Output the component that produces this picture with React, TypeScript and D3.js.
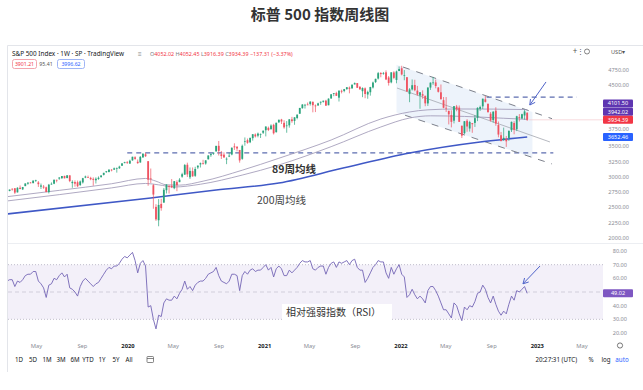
import React from 'react';
import * as d3 from 'd3';

const W = 643;
const H = 390;

// Monday of the first weekly bar (S&P 500, 1W)
const START_MS = Date.UTC(2019, 1, 11);
const barDate = (i: number) => new Date(START_MS + i * 7 * 86400000);

// weekly candles [open, high, low, close]
const candles: [number, number, number, number][] = [
  [2708,2785,2703,2776],[2770,2793,2764,2793],[2805,2814,2775,2804],[2814,2817,2722,2743],[2747,2831,2745,2822],
  [2823,2860,2800,2801],[2796,2836,2785,2834],[2849,2893,2849,2893],[2889,2910,2872,2907],[2908,2916,2895,2905],
  [2898,2940,2896,2940],[2940,2954,2918,2946],[2909,2932,2836,2881],[2840,2892,2802,2860],[2841,2868,2805,2826],
  [2830,2841,2750,2752],[2751,2885,2729,2873],[2886,2910,2873,2887],[2889,2964,2881,2950],[2952,2955,2911,2942],
  [2972,2996,2952,2990],[2980,3014,2966,3014],[3017,3018,2976,2977],[2982,3028,2976,3026],[3025,3028,2914,2932],
  [2898,2945,2822,2919],[2916,2943,2840,2889],[2913,2940,2834,2847],[2866,2941,2853,2926],[2910,2985,2891,2979],
  [2988,3021,2979,3007],[2997,3022,2985,2992],[2984,3002,2946,2962],[2968,2992,2856,2952],[2945,2993,2892,2970],
  [2966,3008,2952,2986],[2996,3028,2990,3023],[3033,3067,3023,3067],[3079,3097,3066,3093],[3081,3120,3074,3120],
  [3118,3128,3091,3110],[3118,3154,3117,3141],[3144,3154,3070,3146],[3141,3183,3132,3169],[3183,3226,3180,3221],
  [3227,3248,3222,3240],
  [3240,3259,3212,3235],[3218,3282,3215,3265],[3271,3330,3264,3330],[3321,3338,3280,3295],[3248,3285,3214,3226],
  [3236,3342,3234,3328],[3319,3385,3315,3380],[3370,3394,3328,3338],[3257,3259,2855,2954],[2975,3137,2901,2972],
  [2864,2882,2479,2711],[2509,2553,2280,2305],[2291,2637,2192,2541],[2558,2642,2447,2489],[2579,2819,2579,2790],
  [2782,2880,2729,2875],[2846,2869,2728,2837],[2855,2965,2817,2831],[2815,2933,2798,2930],[2915,2945,2766,2864],
  [2914,2980,2914,2955],[3004,3068,2986,3044],[3038,3212,3032,3194],[3199,3233,2999,3041],[2994,3155,2966,3098],
  [3095,3155,3004,3009],[3018,3166,3000,3130],[3155,3186,3128,3185],[3205,3235,3154,3225],[3224,3280,3201,3216],
  [3219,3272,3200,3271],[3289,3352,3284,3351],[3356,3388,3328,3373],[3380,3399,3361,3397],[3419,3509,3411,3508],
  [3509,3588,3350,3427],[3371,3425,3293,3341],[3364,3402,3313,3319],[3285,3320,3209,3298],[3333,3397,3324,3348],
  [3367,3483,3354,3477],[3500,3550,3441,3484],[3494,3502,3419,3465],[3441,3441,3233,3270],[3296,3529,3280,3509],
  [3583,3646,3511,3585],[3601,3628,3543,3558],[3567,3645,3553,3638],[3634,3700,3594,3699],[3694,3712,3645,3663],
  [3675,3726,3648,3709],[3694,3711,3637,3703],[3723,3760,3703,3756],
  [3764,3826,3663,3825],[3803,3824,3750,3768],[3781,3861,3775,3841],[3852,3870,3694,3714],[3732,3887,3726,3887],
  [3893,3938,3885,3935],[3939,3950,3866,3907],[3885,3928,3789,3811],[3842,3914,3723,3842],[3844,3945,3806,3943],
  [3942,3983,3886,3913],[3916,3978,3853,3975],[3964,4021,3943,4020],[4034,4129,4034,4129],[4125,4191,4117,4185],
  [4179,4195,4119,4180],[4185,4218,4174,4181],[4192,4238,4167,4233],[4228,4236,4057,4174],[4169,4186,4061,4156],
  [4170,4214,4162,4204],[4216,4234,4180,4230],[4229,4249,4216,4247],[4248,4262,4165,4166],[4173,4286,4173,4281],
  [4284,4356,4279,4352],[4357,4372,4321,4370],[4372,4393,4327,4327],[4297,4415,4234,4412],[4409,4429,4367,4395],
  [4406,4440,4385,4437],[4438,4468,4424,4468],[4461,4480,4368,4442],[4450,4513,4443,4509],[4514,4546,4513,4535],
  [4536,4536,4456,4459],[4474,4487,4429,4433],[4403,4466,4305,4455],[4449,4465,4288,4357],[4349,4412,4279,4391],
  [4386,4475,4330,4471],[4464,4560,4447,4545],[4553,4608,4537,4605],[4610,4718,4595,4698],[4701,4715,4631,4683],
  [4689,4718,4672,4698],[4712,4744,4585,4595],[4628,4652,4495,4538],[4548,4713,4532,4712],[4710,4731,4600,4621],
  [4587,4740,4532,4726],[4733,4808,4733,4766],
  [4778,4819,4662,4677],[4656,4749,4582,4663],[4632,4632,4395,4398],[4356,4453,4223,4432],[4432,4595,4414,4501],
  [4505,4590,4402,4419],[4412,4490,4329,4349],[4332,4389,4115,4385],[4354,4416,4279,4329],[4328,4329,4157,4204],
  [4203,4465,4161,4463],[4462,4546,4424,4543],[4541,4637,4507,4546],[4547,4593,4450,4488],[4463,4471,4381,4393],
  [4385,4513,4267,4272],[4256,4308,4124,4132],[4131,4307,4063,4123],[4082,4082,3859,4024],[4013,4090,3811,3901],
  [3920,4158,3876,4158],[4152,4178,4074,4109],[4134,4169,3900,3901],[3838,3838,3637,3675],[3716,3913,3702,3912],
  [3920,3946,3739,3825],[3792,3919,3742,3899],[3880,3880,3722,3863],[3884,4012,3818,3962],[3966,4140,3913,4130],
  [4113,4167,4080,4145],[4155,4281,4112,4280],[4270,4325,4218,4228],[4195,4204,4058,4058],[4034,4062,3907,3924],
  [3930,4077,3887,4067],[4084,4140,3837,3873],[3849,3907,3648,3693],[3682,3736,3584,3586],[3609,3807,3591,3640],
  [3626,3670,3491,3583],[3638,3762,3590,3753],[3765,3906,3735,3901],[3882,3912,3698,3771],[3780,4001,3750,3993],
  [3978,4028,3907,3965],[3957,4034,3946,4026],[4006,4100,3938,4072],[4052.02,4052.45,3916.39,3934.39],
];

// weekly RSI(14)
const rsi: number[] = [
  58,59,59,54,58,57,59,62,63,63,65,65,58,56,53,46,55,56,60,59,
  62,64,61,63,53,52,50,47,54,58,60,58,56,54,56,57,60,63,66,68,
  67,69,69,71,74,76,75,77,79,73,64,71,73,69,39,40,30,23,33,32,
  42,45,44,44,47,45,49,52,58,52,54,51,55,57,58,58,60,63,64,65,
  68,62,58,57,56,58,63,63,62,51,62,65,63,66,67,65,66,66,68,70,
  66,68,61,67,69,67,62,62,66,64,66,68,71,73,72,72,73,67,66,68,
  69,69,63,68,71,72,68,72,71,72,73,70,73,74,68,66,66,57,60,64,
  68,70,73,72,72,64,60,68,63,67,70,63,61,46,48,52,48,45,47,45,
  42,51,54,54,51,47,42,37,37,34,31,42,40,34,29,39,37,40,39,43,
  49,50,55,52,46,42,47,41,36,33,36,34,41,47,44,51,50,52,54,49.02,
];

// moving averages [bar index, value]
const maUpper: [number, number][] = [
  [0,2676],[20,2780],[40,2888],[53,2975],[57,2930],[61,2870],[66,2865],[75,2930],[90,3110],
  [104,3305],[124,3604],[143,3948],[154,4063],[161,4098],[172,4112],[186,4110],[199,4101.5],
];
const maLower: [number, number][] = [
  [0,2606],[20,2710],[40,2820],[53,2893],[58,2870],[64,2835],[74,2880],[90,3030],
  [104,3195],[124,3495],[143,3817],[154,3964],[162,4000],[175,3990],[190,3960],[199,3942.02],
];
const ma200: [number, number][] = [
  [0,2393],[55,2655],[80,2786],[104,2900],[129,3150],[154,3392],[181,3572],[199,3652.46],
];

// drawn annotations (bar index, value)
const channel: [number, number, number, number][] = [
  [151.5, 4799, 208.5, 3953], // upper
  [152.3, 4009, 208.5, 3212], // lower
];
const channelMid: [number, number, number, number] = [149.2, 4455, 207.7, 3572];
const channelFill: [number, number] = [149, 201];
const levels: [number, number, number][] = [
  [3393, 46, 209],
  [4305, 183.5, 218],
];
const priceArrow: [number, number, number, number] = [206.2, 4554, 200, 4177];
const rsiArrow: [number, number, number, number] = [203.9, 69, 197.4, 56];

const priceTicks = [2000, 2250, 2500, 2750, 3000, 3250, 3500, 3750, 4000, 4250, 4500, 4750];
const rsiTicks = [20, 30, 40, 50, 60, 70, 80];
const timeLabels: [number, number, string][] = [
  [2019, 4, 'May'], [2019, 8, 'Sep'], [2020, 0, '2020'], [2020, 4, 'May'], [2020, 8, 'Sep'],
  [2021, 0, '2021'], [2021, 4, 'May'], [2021, 8, 'Sep'], [2022, 0, '2022'], [2022, 4, 'May'],
  [2022, 8, 'Sep'], [2023, 0, '2023'], [2023, 4, 'May'],
];
const ranges = ['1D', '5D', '1M', '3M', '6M', 'YTD', '1Y', '5Y', 'All'];

const UP = '#2ba37c';
const DOWN = '#ef5361';
const FONT = "'Noto Sans', 'Liberation Sans', sans-serif";
const CJK = "'Noto Sans CJK SC', 'Noto Sans', sans-serif";

export default function App() {
  const x = d3.scaleUtc().domain([barDate(0), barDate(199)]).range([7, 7 + 199 * 2.614]);
  const yP = d3.scaleLinear().domain([2000, 4750]).range([238, 70]);
  const yR = d3.scaleLinear().domain([20, 80]).range([333, 251]);
  const xi = (i: number) => x(barDate(i));

  const maLine = d3.line<[number, number]>().x(d => xi(d[0])).y(d => yP(d[1])).curve(d3.curveMonotoneX);
  const rsiLine = d3.line<number>().x((_, i) => xi(i)).y(d => yR(d));

  const last = candles[candles.length - 1];
  const yClose = yP(last[3]);
  const yLow = yClose - 8.2;
  const yUp = Math.min(yP(4101.5), yLow - 8.2);
  const yBlue = yP(3652.46);
  const priceBoxes = [yUp, yLow, yClose, yBlue];
  const visiblePriceTicks = priceTicks.filter(t => priceBoxes.every(b => Math.abs(yP(t) - b) > 5.5));
  const tickNudge = (yy: number) => (priceBoxes.some(b => Math.abs(yy - b) < 8) ? -1.8 : 0);
  const yRsiLast = yR(rsi[rsi.length - 1]);
  const visibleRsiTicks = rsiTicks.filter(t => Math.abs(yR(t) - yRsiLast) > 5.5);

  const [uf, lf] = channel;
  const lineAt = (l: [number, number, number, number], i: number) => l[1] + (l[3] - l[1]) * (i - l[0]) / (l[2] - l[0]);
  const fillPts = [
    [xi(channelFill[0]), yP(lineAt(uf, channelFill[0]))],
    [xi(channelFill[1]), yP(lineAt(uf, channelFill[1]))],
    [xi(channelFill[1]), yP(lineAt(lf, channelFill[1]))],
    [xi(channelFill[0]), yP(lineAt(lf, channelFill[0]))],
  ].map(p => p.join(',')).join(' ');

  const arrow = (a: [number, number, number, number], ys: (v: number) => number, key: string) => {
    const x1 = xi(a[0]), y1 = ys(a[1]), x2 = xi(a[2]), y2 = ys(a[3]);
    const ang = Math.atan2(y2 - y1, x2 - x1);
    const L = 6;
    const h1 = [x2 - L * Math.cos(ang - 0.5), y2 - L * Math.sin(ang - 0.5)];
    const h2 = [x2 - L * Math.cos(ang + 0.5), y2 - L * Math.sin(ang + 0.5)];
    return (
      <g key={key} stroke="#4f63c9" strokeWidth={1} fill="none">
        <line x1={x1} y1={y1} x2={x2} y2={y2} />
        <polyline points={`${h1[0]},${h1[1]} ${x2},${y2} ${h2[0]},${h2[1]}`} />
      </g>
    );
  };

  const box = (yc: number, label: string, color: string, key: string) => (
    <g key={key}>
      <rect x={603} y={yc - 4} width={30} height={8} rx={1} fill={color} />
      <text x={618} y={yc + 1.9} textAnchor="middle" fontSize={5.5} fill="#fff" fontFamily={FONT}>{label}</text>
    </g>
  );

  return (
    <div style={{ position: 'absolute', left: 0, top: 0 }}>
      <svg width={W} height={H} viewBox={`0 0 ${W} ${H}`} style={{ display: 'block', background: '#fff' }}>
        <defs>
          <clipPath id="pp"><rect x={8} y={46} width={595} height={196} /></clipPath>
          <clipPath id="rp"><rect x={8} y={244} width={595} height={94} /></clipPath>
        </defs>

        <text x={320} y={20} textAnchor="middle" fontSize={15} fontWeight={700} fill="#333" fontFamily={CJK}>标普 500 指数周线图</text>

        {/* frame */}
        <line x1={7.5} y1={45.5} x2={643} y2={45.5} stroke="#e3e5ea" />
        <line x1={7.5} y1={45.5} x2={7.5} y2={372} stroke="#e3e5ea" />
        <line x1={8} y1={243.5} x2={643} y2={243.5} stroke="#eceef2" />

        {/* legend */}
        <text x={12} y={56} fontSize={6.4} fill="#131722" fontFamily={FONT}>S&amp;P 500 Index · 1W · SP · TradingView</text>
        <text x={138} y={56} fontSize={6.4} fill="#888" fontFamily={FONT}>≡</text>
        <text x={150} y={56} fontSize={5.4} fontFamily={FONT}>
          <tspan fill="#787b86">O</tspan><tspan fill="#f23645">4052.02 </tspan>
          <tspan fill="#787b86">H</tspan><tspan fill="#f23645">4052.45 </tspan>
          <tspan fill="#787b86">L</tspan><tspan fill="#f23645">3916.39 </tspan>
          <tspan fill="#787b86">C</tspan><tspan fill="#f23645">3934.39 −137.31 (−3.37%)</tspan>
        </text>
        <rect x={12.5} y={59.5} width={24} height={9} rx={2} fill="#fff" stroke="#f3a5ad" />
        <text x={24.5} y={66} textAnchor="middle" fontSize={5.2} fill="#f23645" fontFamily={FONT}>3901.21</text>
        <text x={46} y={66} textAnchor="middle" fontSize={5.2} fill="#555" fontFamily={FONT}>95.41</text>
        <rect x={57.5} y={59.5} width={27} height={9} rx={2} fill="#fff" stroke="#9fb5f5" />
        <text x={71} y={66} textAnchor="middle" fontSize={5.2} fill="#2962ff" fontFamily={FONT}>3996.62</text>

        {/* top-right tools */}
        <text x={575} y={54} textAnchor="middle" fontSize={8} fill="#555" fontFamily={FONT}>+</text>
        <text x={580} y={54} textAnchor="middle" fontSize={7} fill="#555" fontFamily={FONT}>⋮</text>
        <circle cx={587} cy={51.5} r={2.5} fill="none" stroke="#666" strokeWidth={0.8} />
        <text x={611} y={54} fontSize={5.6} fill="#555" fontFamily={FONT}>USD▾</text>

        {/* price pane */}
        <g clipPath="url(#pp)">
          <polygon points={fillPts} fill="#e6eef9" opacity={0.7} />
          {levels.map((l, k) => (
            <line key={'lv' + k} x1={xi(l[1])} x2={xi(l[2])} y1={yP(l[0])} y2={yP(l[0])} stroke="#5d6db0" strokeWidth={1.2} strokeDasharray="5,4" />
          ))}
          {channel.map((c, k) => (
            <line key={'ch' + k} x1={xi(c[0])} y1={yP(c[1])} x2={xi(c[2])} y2={yP(c[3])} stroke="#7d818c" strokeWidth={1} strokeDasharray="7,7" />
          ))}
          <line x1={xi(channelMid[0])} y1={yP(channelMid[1])} x2={xi(channelMid[2])} y2={yP(channelMid[3])} stroke="#a3a7b0" strokeWidth={0.8} />
          <path d={maLine(ma200) || ''} fill="none" stroke="#3f58c6" strokeWidth={1.6} />
          <path d={maLine(maUpper) || ''} fill="none" stroke="#9a93b3" strokeWidth={0.8} />
          <path d={maLine(maLower) || ''} fill="none" stroke="#9a93b3" strokeWidth={0.8} />
          <line x1={xi(199) + 2} x2={603} y1={yClose} y2={yClose} stroke="#f4c2c6" strokeWidth={0.6} />
          {candles.map((c, i) => {
            const [o, h, l, cl] = c;
            const up = cl >= o;
            const col = up ? UP : DOWN;
            const cx = xi(i);
            const top = yP(Math.max(o, cl));
            const bot = yP(Math.min(o, cl));
            return (
              <g key={i}>
                <line x1={cx} x2={cx} y1={yP(h)} y2={yP(l)} stroke={col} strokeWidth={0.7} />
                <rect x={cx - 0.9} y={top} width={1.8} height={Math.max(0.7, bot - top)} fill={col} />
              </g>
            );
          })}
          {arrow(priceArrow, yP, 'pa')}
        </g>

        <text x={272} y={173} fontSize={10.5} fontWeight={700} fill="#333" fontFamily={CJK}>89周均线</text>
        <text x={257} y={204} fontSize={10.5} fill="#444" fontFamily={CJK}>200周均线</text>

        {/* price axis */}
        {visiblePriceTicks.map(t => (
          <text key={'pt' + t} x={629} y={yP(t) + 2 + tickNudge(yP(t))} textAnchor="end" fontSize={5.6} fill="#8a8d95" fontFamily={FONT}>{t.toFixed(2)}</text>
        ))}
        {box(yUp, '4101.50', '#5e35b1', 'b1')}
        {box(yLow, '3942.02', '#5e35b1', 'b2')}
        {box(yClose, last[3].toFixed(2), '#f23645', 'b3')}
        {box(yBlue, '3652.46', '#2962ff', 'b4')}

        {/* RSI pane */}
        <g clipPath="url(#rp)">
          <rect x={8} y={yR(70)} width={595} height={yR(30) - yR(70)} fill="#7e57c2" opacity={0.09} />
          <line x1={8} x2={603} y1={yR(70)} y2={yR(70)} stroke="#a9a6b8" strokeWidth={0.7} strokeDasharray="1,2" />
          <line x1={8} x2={603} y1={yR(30)} y2={yR(30)} stroke="#a9a6b8" strokeWidth={0.7} strokeDasharray="1,2" />
          <line x1={8} x2={603} y1={yR(50)} y2={yR(50)} stroke="#c3c0cf" strokeWidth={0.7} strokeDasharray="4,3" />
          <path d={rsiLine(rsi) || ''} fill="none" stroke="#7465b6" strokeWidth={0.9} />
          {arrow(rsiArrow, yR, 'ra')}
        </g>
        <rect x={282} y={304} width={110} height={17} fill="#fff" />
        <text x={286} y={316} fontSize={10} fill="#333" fontFamily={CJK}>相对强弱指数（RSI）</text>
        {visibleRsiTicks.map(t => (
          <text key={'rt' + t} x={627} y={yR(t) + 2} textAnchor="end" fontSize={5.6} fill="#8a8d95" fontFamily={FONT}>{t.toFixed(2)}</text>
        ))}
        {box(yRsiLast, '49.02', '#7e57c2', 'b5')}

        {/* time axis */}
        {timeLabels.map(([yy, mm, s], k) => {
          const isYear = mm === 0;
          return (
            <text key={'tl' + k} x={x(new Date(Date.UTC(yy, mm, 1)))} y={348} textAnchor="middle" fontSize={5.8}
              fontWeight={isYear ? 700 : 400} fill={isYear ? '#131722' : '#8a8d95'} fontFamily={FONT}>{s}</text>
          );
        })}
        <circle cx={620} cy={345.5} r={2.6} fill="none" stroke="#555" strokeWidth={0.8} />

        {/* bottom toolbar */}
        {ranges.map((r, k) => (
          <text key={'rg' + k} x={[19, 33, 47, 61, 75, 88, 102, 116, 129][k]} y={362} textAnchor="middle" fontSize={6.2} fill="#131722" fontFamily={FONT}>{r}</text>
        ))}
        <g stroke="#555" strokeWidth={0.7} fill="none">
          <rect x={147} y={356.5} width={6.5} height={6} rx={0.8} />
          <line x1={147} x2={153.5} y1={358.5} y2={358.5} />
        </g>
        <text x={577} y={362} textAnchor="end" fontSize={6.2} fill="#131722" fontFamily={FONT}>20:27:31 (UTC)</text>
        <text x={591} y={362} textAnchor="middle" fontSize={6.2} fill="#131722" fontFamily={FONT}>%</text>
        <text x={606} y={362} textAnchor="middle" fontSize={6.2} fill="#131722" fontFamily={FONT}>log</text>
        <text x={622} y={362} textAnchor="middle" fontSize={6.2} fill="#2962ff" fontFamily={FONT}>auto</text>
      </svg>
    </div>
  );
}
